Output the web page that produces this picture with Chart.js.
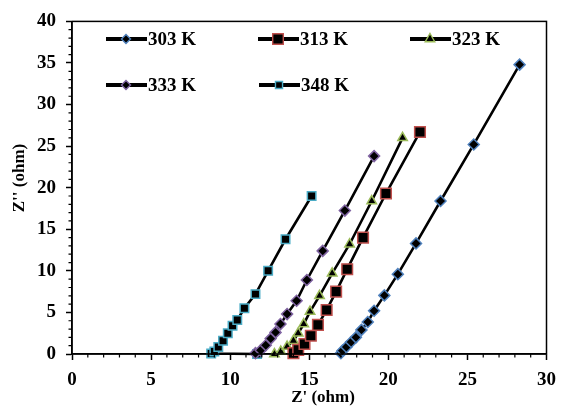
<!DOCTYPE html>
<html>
<head>
<meta charset="utf-8">
<script src="https://cdn.jsdelivr.net/npm/chart.js@4"></script>
<style>
  html, body { margin: 0; padding: 0; background: #fff; }
  #wrap { width: 565px; height: 410px; }
</style>
</head>
<body>
<div id="wrap"><canvas id="nyquistChart" width="565" height="410"></canvas></div>
<script>
// series values (Z' , Z'' in ohm)
const labels303 = "303 K";
const x303 = [17.0, 17.1, 17.35, 17.65, 17.95, 18.3, 18.7, 19.1, 19.75, 20.6, 21.75, 23.3, 25.4, 28.3];
const y303 = [0.1, 0.4, 0.85, 1.45, 2.0, 2.9, 3.85, 5.2, 7.05, 9.6, 13.3, 18.4, 25.2, 34.8];

const labels313 = "313 K";
const x313 = [14.0, 14.3, 14.7, 15.1, 15.55, 16.1, 16.7, 17.4, 18.4, 19.85, 22.0];
const y313 = [0.1, 0.5, 1.2, 2.2, 3.5, 5.3, 7.5, 10.2, 14.0, 19.3, 26.7];

const labels323 = "323 K";
const x323 = [12.8, 13.2, 13.6, 14.0, 14.3, 14.65, 15.05, 15.65, 16.45, 17.55, 18.95, 20.9];
const y323 = [0.0, 0.3, 0.9, 1.6, 2.5, 3.6, 5.1, 7.0, 9.7, 13.2, 18.4, 26.0];

const labels333 = "333 K";
const x333 = [11.6, 11.93, 12.25, 12.56, 12.87, 13.18, 13.6, 14.2, 14.85, 15.85, 17.25, 19.1];
const y333 = [0.1, 0.45, 1.05, 1.85, 2.6, 3.6, 4.8, 6.4, 8.9, 12.4, 17.25, 23.8];

const labels348 = "348 K";
const x348 = [11.7, 8.8, 9.0, 9.25, 9.55, 9.85, 10.15, 10.45, 10.9, 11.6, 12.4, 13.5, 15.15];
const y348 = [0.0, 0.05, 0.3, 0.85, 1.6, 2.5, 3.4, 4.1, 5.5, 7.2, 10.0, 13.8, 19.0];

// axis ticks
const xTicks = [0, 5, 10, 15, 20, 25, 30];
const yTicks = [0, 5, 10, 15, 20, 25, 30, 35, 40];
const xTitle = "Z' (ohm)";
const yTitle = "Z'' (ohm)";

function toPoints(xs, ys) {
    return xs.map((x, i) => ({ x: x, y: ys[i] }));
}

const serifBold = "bold 19px 'Liberation Serif', 'Times New Roman', serif";

function makeSet(label, xs, ys, style, outline, radius) {
    return {
        label: label,
        data: toPoints(xs, ys),
        showLine: true,
        borderColor: "#000",
        borderWidth: 2.6,
        tension: 0,
        pointStyle: style,
        pointRadius: radius,
        pointHoverRadius: radius,
        pointBackgroundColor: "#000",
        pointBorderColor: outline,
        pointBorderWidth: 1.5,
        clip: false
    };
}

// legend slots (canvas px)
const legendSlots = [
    { x: 106, y: 39, r: 4.5 },
    { x: 258, y: 39, r: 7.5 },
    { x: 410, y: 39, r: 5.5 },
    { x: 106, y: 85, r: 4.5 },
    { x: 259, y: 85, r: 5 }
];

const framePlugin = {
    id: "frame",
    afterDraw(chart) {
        const ctx = chart.ctx;
        const a = chart.chartArea;
        const xs = chart.scales.x;
        const ys = chart.scales.y;
        ctx.save();

        // box around plot
        ctx.strokeStyle = "#000";
        ctx.lineWidth = 1.5;
        ctx.strokeRect(a.left, a.top, a.right - a.left, a.bottom - a.top);

        // minor ticks every 1
        ctx.lineWidth = 1.2;
        ctx.beginPath();
        for (let v = 0; v <= 30; v++) {
            if (v % 5 === 0) continue;
            const px = xs.getPixelForValue(v);
            ctx.moveTo(px, a.bottom);
            ctx.lineTo(px, a.bottom + 3.5);
        }
        for (let v = 0; v <= 40; v++) {
            if (v % 5 === 0) continue;
            const py = ys.getPixelForValue(v);
            ctx.moveTo(a.left, py);
            ctx.lineTo(a.left - 3.5, py);
        }
        ctx.stroke();

        // legend
        ctx.textBaseline = "middle";
        ctx.textAlign = "left";
        chart.data.datasets.forEach((ds, i) => {
            const s = legendSlots[i];
            ctx.strokeStyle = "#000";
            ctx.lineWidth = 4;
            ctx.beginPath();
            ctx.moveTo(s.x, s.y);
            ctx.lineTo(s.x + 41, s.y);
            ctx.stroke();
            ctx.fillStyle = "#000";
            ctx.strokeStyle = ds.pointBorderColor;
            ctx.lineWidth = 1.4;
            Chart.helpers.drawPoint(ctx, {
                pointStyle: ds.pointStyle,
                rotation: 0,
                radius: s.r,
                borderWidth: 1.4
            }, s.x + 20, s.y);
            ctx.fillStyle = "#000";
            ctx.font = serifBold;
            ctx.fillText(ds.label, s.x + 42, s.y + 1);
        });

        // axis titles
        ctx.font = "bold 17px 'Liberation Serif', 'Times New Roman', serif";
        ctx.textAlign = "center";
        ctx.fillStyle = "#000";
        ctx.fillText(xTitle, 323, 398);
        ctx.translate(20, 178);
        ctx.rotate(-Math.PI / 2);
        ctx.fillText(yTitle, 0, 0);
        ctx.restore();
    }
};

const ctx = document.getElementById("nyquistChart").getContext("2d");

new Chart(ctx, {
    type: "scatter",
    data: {
        datasets: [
            makeSet(labels303, x303, y303, "rectRot", "#4f81bd", 5.5),
            makeSet(labels313, x313, y313, "rect", "#c0504d", 7.5),
            makeSet(labels323, x323, y323, "triangle", "#9bbb59", 5.5),
            makeSet(labels333, x333, y333, "rectRot", "#8064a2", 5.5),
            makeSet(labels348, x348, y348, "rect", "#4bacc6", 6)
        ]
    },
    options: {
        responsive: false,
        animation: false,
        layout: { padding: { left: 0, top: 14, right: 12, bottom: 0 } },
        plugins: {
            legend: { display: false },
            tooltip: { enabled: false }
        },
        scales: {
            x: {
                type: "linear",
                min: xTicks[0],
                max: xTicks[xTicks.length - 1],
                afterBuildTicks: function (scale) {
                    scale.ticks = xTicks.map(v => ({ value: v }));
                },
                afterFit: function (scale) { scale.height = 56; },
                ticks: {
                    color: "#000",
                    padding: 9,
                    font: { family: "'Liberation Serif', serif", size: 19, weight: "bold" }
                },
                grid: { drawOnChartArea: false, tickLength: 6, tickColor: "#000", tickWidth: 1.5 },
                border: { color: "#000", width: 1.5 }
            },
            y: {
                type: "linear",
                min: yTicks[0],
                max: yTicks[yTicks.length - 1],
                afterBuildTicks: function (scale) {
                    scale.ticks = yTicks.map(v => ({ value: v }));
                },
                afterFit: function (scale) { scale.width = 72; },
                ticks: {
                    color: "#000",
                    padding: 10,
                    font: { family: "'Liberation Serif', serif", size: 19, weight: "bold" }
                },
                grid: { drawOnChartArea: false, tickLength: 6, tickColor: "#000", tickWidth: 1.5 },
                border: { color: "#000", width: 1.5 }
            }
        }
    },
    plugins: [framePlugin]
});
</script>
</body>
</html>
